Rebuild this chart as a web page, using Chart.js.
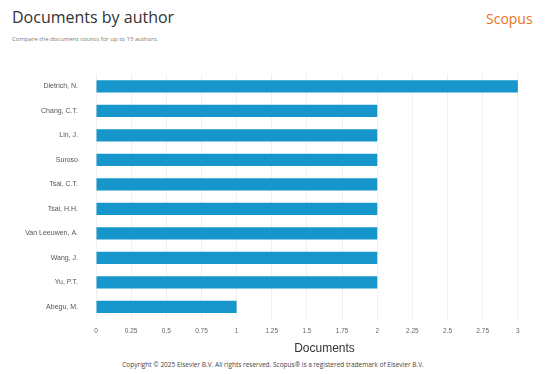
<!DOCTYPE html>
<html>
<head>
<meta charset="utf-8">
<script src="https://cdn.jsdelivr.net/npm/chart.js@4"></script>
<style>
  body { margin: 0; width: 546px; height: 374px; overflow: hidden; background: #fff; font-family: "Open Sans", Arial, sans-serif; position: relative; }
  #title { position: absolute; left: 12px; top: 6px; font-size: 16px; color: #333; }
  #sub { position: absolute; left: 12px; top: 35px; font-size: 6px; color: #777; }
  #brand { position: absolute; left: 486px; top: 9px; font-size: 14px; color: #e9711c; }
  #copy { position: absolute; left: 0; width: 546px; top: 360px; text-align: center; font-size: 6.5px; color: #444; }
  #wrap { position: absolute; left: 0; top: 60px; width: 570px; height: 298px; }
</style>
</head>
<body>
<div id="title">Documents by author</div>
<div id="sub">Compare the document counts for up to 15 authors.</div>
<div id="brand">Scopus</div>
<div id="wrap"><canvas id="docs"></canvas></div>
<div id="copy">Copyright © 2025 Elsevier B.V. All rights reserved. Scopus® is a registered trademark of Elsevier B.V.</div>
<script>
const authors = ['Dietrich, N.', 'Chang, C.T.', 'Lin, J.', 'Suroso', 'Tsai, C.T.', 'Tsai, H.H.', 'Van Leeuwen, A.', 'Wang, J.', 'Yu, P.T.', 'Abegu, M.']
const docCounts = [3, 2, 2, 2, 2, 2, 2, 2, 2, 1]
const xTicks = [0, 0.25, 0.5, 0.75, 1, 1.25, 1.5, 1.75, 2, 2.25, 2.5, 2.75, 3, 3.25]

function draw_authors(insert){
  const ctx = document.getElementById(insert).getContext('2d');
  new Chart(ctx, {
    type: 'bar',
    data: {
      labels: authors,
      datasets: [{
        label: 'Documents',
        data: docCounts,
        backgroundColor: '#1796cb',
        barPercentage: 0.5,
        categoryPercentage: 1
      }]
    },
    options: {
      indexAxis: 'y',
      responsive: true,
      maintainAspectRatio: false,
      animation: false,
      layout: { padding: { top: 8, right: 17, left: 0, bottom: 0 } },
      plugins: { legend: { display: false }, tooltip: { enabled: false } },
      scales: {
        x: {
          min: 0, max: 3.25,
          afterBuildTicks: s => { s.ticks = xTicks.map(v => ({ value: v })) },
          afterFit: s => { s.height = 39 },
          grid: { color: '#efefef', drawTicks: false },
          border: { display: false },
          ticks: { color: '#666', font: { size: 6.5 }, padding: 8, maxRotation: 0, autoSkip: false,
                   callback: v => String(v) },
          title: { display: true, text: 'Documents', color: '#333', font: { size: 12 }, padding: { top: 2, bottom: 2 } }
        },
        y: {
          afterFit: s => { s.width = 96 },
          grid: { display: false },
          border: { display: false },
          ticks: { color: '#555', font: { size: 7 }, padding: 10 }
        }
      }
    }
  });
}

draw_authors('docs')
</script>
</body>
</html>
